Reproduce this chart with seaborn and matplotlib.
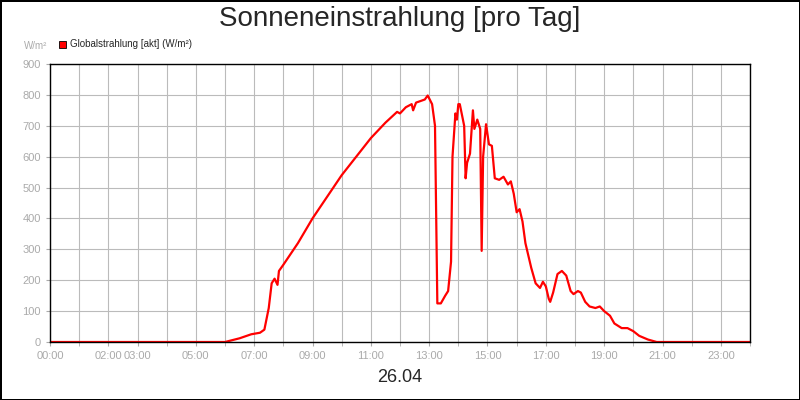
import matplotlib
matplotlib.use("Agg")
from matplotlib import pyplot as plt
import seaborn as sns
import pandas as pd

# hours of day and global radiation (W/m²)
hours = [0, 6.0, 6.5, 6.9, 7.2, 7.35, 7.5, 7.6, 7.7, 7.8, 7.85, 8.0, 8.5, 9.0, 9.5, 10.0,
         10.5, 11.0, 11.5, 11.9, 12.0, 12.2, 12.4, 12.45, 12.55, 12.7, 12.85, 12.95, 13.1,
         13.2, 13.28, 13.4, 13.55, 13.65, 13.75, 13.8, 13.9, 13.95, 14.0, 14.05, 14.2, 14.25,
         14.3, 14.4, 14.5, 14.55, 14.65, 14.75, 14.8, 14.85, 14.95, 15.05, 15.15, 15.25, 15.4,
         15.55, 15.7, 15.8, 15.9, 16.0, 16.1, 16.2, 16.3, 16.5, 16.65, 16.8, 16.9, 17.0, 17.1,
         17.15, 17.25, 17.4, 17.55, 17.7, 17.85, 17.95, 18.1, 18.2, 18.35, 18.5, 18.7, 18.85,
         19.0, 19.2, 19.35, 19.6, 19.8, 20.0, 20.2, 20.5, 20.8, 24.0]
radiation = [0, 0, 12, 25, 30, 40, 110, 190, 205, 185, 230, 250, 320, 400, 470, 540,
             600, 660, 710, 745, 740, 760, 770, 750, 775, 780, 785, 798, 770,
             700, 125, 125, 150, 165, 260, 600, 740, 720, 770, 770, 700, 530,
             580, 610, 750, 690, 720, 690, 295, 600, 705, 640, 635, 530, 525,
             535, 510, 520, 480, 420, 430, 390, 320, 240, 190, 175, 195, 180, 140,
             130, 160, 220, 230, 215, 165, 155, 165, 160, 130, 115, 110, 115,
             100, 85, 60, 45, 45, 35, 20, 8, 0, 0]
tick_hours = [0, 2, 3, 5, 7, 9, 11, 13, 15, 17, 19, 21, 23]
tick_labels = ["00:00", "02:00", "03:00", "05:00", "07:00", "09:00", "11:00",
               "13:00", "15:00", "17:00", "19:00", "21:00", "23:00"]

sns.set_style("white")
plt.rcParams['font.family'] = ['Liberation Sans', 'DejaVu Sans']

df = pd.DataFrame({"hour": hours, "value": radiation})

fig = plt.figure(figsize=(8, 4), dpi=100)
fig.patch.set_edgecolor("black")
fig.patch.set_linewidth(2)
ax = fig.add_axes([50 / 800, 1 - 342 / 400, 700 / 800, (342 - 64) / 400])

sns.lineplot(data=df, x="hour", y="value", color="#ff0000", linewidth=1.6, ax=ax,
             label="Globalstrahlung [akt] (W/m²)", legend=False)

ax.set_xlim(0, 24)
ax.set_ylim(0, 900)
ax.set_xticks(range(0, 25), minor=True)
ax.set_xticks(tick_hours)
ax.set_xticklabels(tick_labels)
ax.set_yticks(range(0, 901, 100))
ax.grid(True, which="both", axis="x", color="#bbbbbb", linewidth=0.8)
ax.grid(True, axis="y", color="#bbbbbb", linewidth=0.8)
ax.tick_params(colors="#aaaaaa", labelsize=8, length=3, direction="out", which="both",
               bottom=True, left=True)
for s in ax.spines.values():
    s.set_color("black")
    s.set_linewidth(1)
ax.set_xlabel("")
ax.set_ylabel("")

fig.text(0.5, 0.953, "Sonneneinstrahlung [pro Tag]", ha="center", va="center", fontsize=20)
fig.text(0.5, 0.057, "26.04", ha="center", va="center", fontsize=13)
fig.text(24 / 800, 1 - 46 / 400, "W/m²", fontsize=7, color="#aaaaaa", ha="left", va="center")
fig.patches.append(plt.Rectangle((59 / 800, 1 - 48 / 400), 7 / 800, 7 / 400,
                                 transform=fig.transFigure, facecolor="#ff0000",
                                 edgecolor="black", linewidth=0.6))
fig.text(70 / 800, 1 - 44 / 400, "Globalstrahlung [akt] (W/m²)", fontsize=7, ha="left", va="center")

fig.savefig("out.png", dpi=100, edgecolor=fig.get_edgecolor())
